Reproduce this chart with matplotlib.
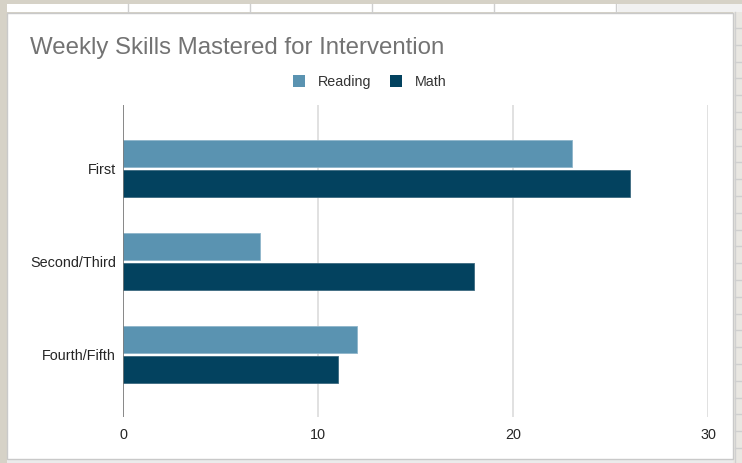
import matplotlib
matplotlib.use("Agg")
import matplotlib.pyplot as plt
from matplotlib.patches import Rectangle, Patch
from matplotlib.lines import Line2D

categories = ["First", "Second/Third", "Fourth/Fifth"]
reading = [23, 7, 12]
math_vals = [26, 18, 11]
series_names = ["Reading", "Math"]
x_ticks = [0, 10, 20, 30]
title = "Weekly Skills Mastered for Intervention"

C_READ = "#5a93b1"
C_MATH = "#03425f"
BEIGE = "#d6d2c7"

plt.rcParams["font.family"] = ["Liberation Sans", "DejaVu Sans"]

W, H = 742, 463
fig = plt.figure(figsize=(W / 100, H / 100), dpi=100, facecolor=BEIGE)

def px_rect(x0, y0, x1, y1, **kw):
    r = Rectangle((x0 / W, 1 - y1 / H), (x1 - x0) / W, (y1 - y0) / H,
                  transform=fig.transFigure, zorder=-10, **kw)
    fig.patches.append(r)

def px_line(x0, y0, x1, y1, **kw):
    l = Line2D([x0 / W, x1 / W], [1 - y0 / H, 1 - y1 / H],
               transform=fig.transFigure, zorder=-9, **kw)
    fig.lines.append(l)

# spreadsheet strip on top
px_rect(7, 4, 618, 12, facecolor="white", edgecolor="none")
px_rect(618, 4, 742, 12, facecolor="#f1f1f1", edgecolor="none")
for xc in [128, 250, 372, 494, 616]:
    px_line(xc, 4, xc, 12, color="#cfcfcf", lw=1)
# right strip
px_rect(733, 12, 742, 463, facecolor="#e9e7e2", edgecolor="none")
px_line(735, 12, 735, 463, color="#d0d0d0", lw=1)
yy = 28.0
while yy < 463:
    px_line(735, yy, 742, yy, color="#cfcfcf", lw=1)
    yy += 16.8
# bottom strip
px_rect(7, 459, 733, 463, facecolor="#ebebeb", edgecolor="none")
# card
card = Rectangle((7.5 / W, 1 - 459 / H), (733 - 7.5) / W, (459 - 12.5) / H,
                 transform=fig.transFigure, zorder=-8, facecolor="white",
                 edgecolor="#c9c9c9", lw=1)
fig.patches.append(card)

ax = fig.add_axes([123 / W, 46 / H, 585 / W, 312 / H])
ax.set_facecolor("none")

h = 0.29
off = 0.161
ys = list(range(len(categories)))
ax.barh([y - off for y in ys], reading, height=h, color=C_READ, zorder=3,
        edgecolor="#8fb6cb", linewidth=0.6, label=series_names[0])
ax.barh([y + off for y in ys], math_vals, height=h, color=C_MATH, zorder=3,
        edgecolor="#3c6a80", linewidth=0.6, label=series_names[1])

ax.set_ylim(2.672, -0.683)
ax.set_xlim(0, 30)
ax.set_yticks(ys)
ax.set_yticklabels(categories)
ax.set_xticks(x_ticks)
ax.set_xticklabels([str(t) for t in x_ticks])
ax.tick_params(axis="y", length=0, pad=5, labelsize=10.4, labelcolor="#262626")
ax.tick_params(axis="x", length=0, pad=8, labelsize=10.4, labelcolor="#262626")
for s in ax.spines.values():
    s.set_visible(False)
ax.xaxis.grid(True, color="#dedede", lw=1.3, zorder=0)
ax.set_axisbelow(True)
ax.axvline(0, color="#707070", lw=1.1, zorder=4)

fig.text(30 / W, 1 - 54 / H, title, fontsize=17.3, color="#737373",
         ha="left", va="baseline")

handles = [Patch(facecolor=C_READ, edgecolor="none"),
           Patch(facecolor=C_MATH, edgecolor="none")]
fig.legend(handles, series_names, loc="center", ncol=2,
           bbox_to_anchor=(370 / W, 1 - 82 / H), frameon=False,
           fontsize=10.3, handlelength=0.85, handleheight=0.85,
           handletextpad=0.9, columnspacing=1.3, labelcolor="#333333")

fig.savefig("out.png", dpi=100, facecolor=BEIGE)
